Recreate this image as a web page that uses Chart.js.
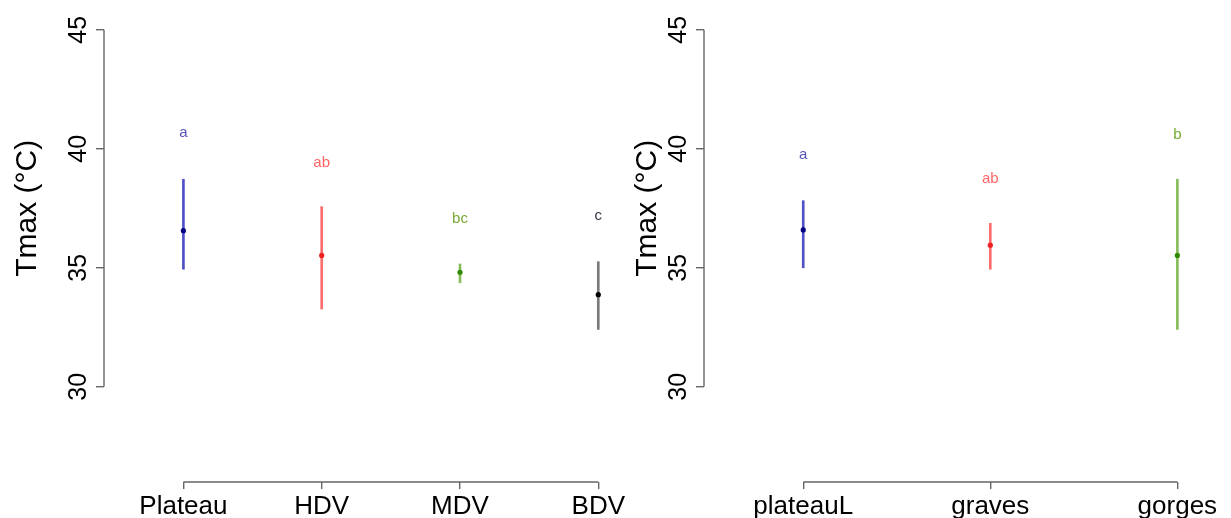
<!DOCTYPE html>
<html>
<head>
<meta charset="utf-8">
<script src="https://cdn.jsdelivr.net/npm/chart.js@4.4.1/dist/chart.umd.min.js"></script>
<style>
html,body{margin:0;padding:0;background:#ffffff;}
#wrap{position:relative;width:1231px;height:518px;overflow:hidden;background:#ffffff;}
canvas{position:absolute;top:0;}
</style>
</head>
<body>
<div id="wrap">
<canvas id="c1" width="640" height="518" style="left:0px"></canvas>
<canvas id="c2" width="631" height="518" style="left:600px"></canvas>
</div>
<script>
// ---- data ----
const yTicks = [30, 35, 40, 45];
const yTitle = 'Tmax (°C)';

const catsL = ['Plateau', 'HDV', 'MDV', 'BDV'];
const meanL = [36.56, 35.52, 34.81, 33.87];
const lowL  = [34.94, 33.27, 34.37, 32.41];
const highL = [38.72, 37.57, 35.16, 35.26];
const lettersL = ['a', 'ab', 'bc', 'c'];
const letterYL = [40.65, 39.42, 37.05, 37.18];

const catsR = ['plateauL', 'graves', 'gorges'];
const meanR = [36.59, 35.95, 35.52];
const lowR  = [35.00, 34.94, 32.41];
const highR = [37.82, 36.87, 38.72];
const lettersR = ['a', 'ab', 'b'];
const letterYR = [39.74, 38.72, 40.58];

// ---- styles ----
const barColL = ['#5050c8', '#ff6c6c', '#86bd5a', '#7a7a7a'];
const ptColL  = ['#000080', '#ee2020', '#2f8a00', '#000000'];
const txtColL = ['#5555bb', '#ff6666', '#77aa33', '#333344'];
const barColR = ['#5050c8', '#ff6c6c', '#86bd5a'];
const ptColR  = ['#000080', '#ee2020', '#2f8a00'];
const txtColR = ['#5555bb', '#ff6666', '#77aa33'];
const FONT = '"Liberation Sans", Arial, sans-serif';
const AXIS = '#666666';

function rPlugin(n, letters, letterY, txtCol, titleX) {
  return {
    id: 'rAxes',
    afterDatasetsDraw(chart) {
      const {ctx, chartArea, scales: {x, y}} = chart;
      ctx.save();
      ctx.strokeStyle = AXIS;
      ctx.lineWidth = 1.4;
      ctx.beginPath();
      const x0 = chartArea.left;
      ctx.moveTo(x0, y.getPixelForValue(yTicks[0]));
      ctx.lineTo(x0, y.getPixelForValue(yTicks[yTicks.length - 1]));
      const yb = chartArea.bottom;
      ctx.moveTo(x.getPixelForValue(1), yb);
      ctx.lineTo(x.getPixelForValue(n), yb);
      ctx.stroke();
      // group letters
      ctx.font = '15px ' + FONT;
      ctx.textAlign = 'center';
      ctx.textBaseline = 'middle';
      letters.forEach((t, i) => {
        ctx.fillStyle = txtCol[i];
        ctx.fillText(t, x.getPixelForValue(i + 1), y.getPixelForValue(letterY[i]));
      });
      // y title
      const yc = (y.getPixelForValue(yTicks[0]) + y.getPixelForValue(yTicks[yTicks.length - 1])) / 2;
      ctx.translate(titleX, yc);
      ctx.rotate(-Math.PI / 2);
      ctx.font = '30px ' + FONT;
      ctx.fillStyle = '#000000';
      ctx.fillText(yTitle, 0, 0);
      ctx.restore();
    }
  };
}

function makeChart(id, cats, means, lows, highs, letters, letterY, barCol, ptCol, txtCol, xMin, xMax, titleX) {
  const xs = cats.map((c, i) => i + 1);
  new Chart(document.getElementById(id), {
    type: 'scatter',
    data: {
      datasets: [
        {
          type: 'bar',
          data: xs.map((xv, i) => ({x: xv, y: [lows[i], highs[i]]})),
          backgroundColor: barCol,
          borderWidth: 0,
          barThickness: 2,
          grouped: false,
          order: 2
        },
        {
          type: 'scatter',
          data: xs.map((xv, i) => ({x: xv, y: means[i]})),
          pointRadius: 2.6,
          pointBackgroundColor: ptCol,
          pointBorderColor: ptCol,
          pointBorderWidth: 0,
          order: 1
        }
      ]
    },
    options: {
      responsive: false,
      devicePixelRatio: 1,
      animation: false,
      events: [],
      layout: {padding: {top: 6, left: 0, right: 0, bottom: 0}},
      plugins: {legend: {display: false}, tooltip: {enabled: false}},
      scales: {
        x: {
          type: 'linear',
          min: xMin,
          max: xMax,
          offset: false,
          grid: {display: true, drawOnChartArea: false, drawTicks: true, tickLength: 7, color: AXIS, lineWidth: 1.4, offset: false},
          border: {display: false},
          ticks: {
            font: {family: FONT, size: 26},
            color: '#000000',
            padding: 2,
            maxRotation: 0,
            minRotation: 0,
            callback: (v) => cats[v - 1]
          },
          afterBuildTicks: (s) => { s.ticks = xs.map(v => ({value: v})); },
          afterFit: (s) => { s.height = 36; s.paddingLeft = 0; s.paddingRight = 0; }
        },
        y: {
          type: 'linear',
          min: 26,
          max: 46,
          beginAtZero: false,
          grid: {display: true, drawOnChartArea: false, drawTicks: true, tickLength: 8, color: AXIS, lineWidth: 1.4},
          border: {display: false},
          ticks: {
            font: {family: FONT, size: 25},
            color: '#000000',
            padding: 3,
            minRotation: 90,
            maxRotation: 90,
            crossAlign: 'center'
          },
          afterBuildTicks: (s) => { s.ticks = yTicks.map(v => ({value: v})); },
          afterFit: (s) => { s.width = 104; s.paddingTop = 0; s.paddingBottom = 0; }
        }
      }
    },
    plugins: [rPlugin(cats.length, letters, letterY, txtCol, titleX)]
  });
}

makeChart('c1', catsL, meanL, lowL, highL, lettersL, letterYL, barColL, ptColL, txtColL, 0.4258, 4.2727, 28);
makeChart('c2', catsR, meanR, lowR, highR, lettersR, letterYR, barColR, ptColR, txtColR, 0.4695, 3.2653, 48);
</script>
</body>
</html>
